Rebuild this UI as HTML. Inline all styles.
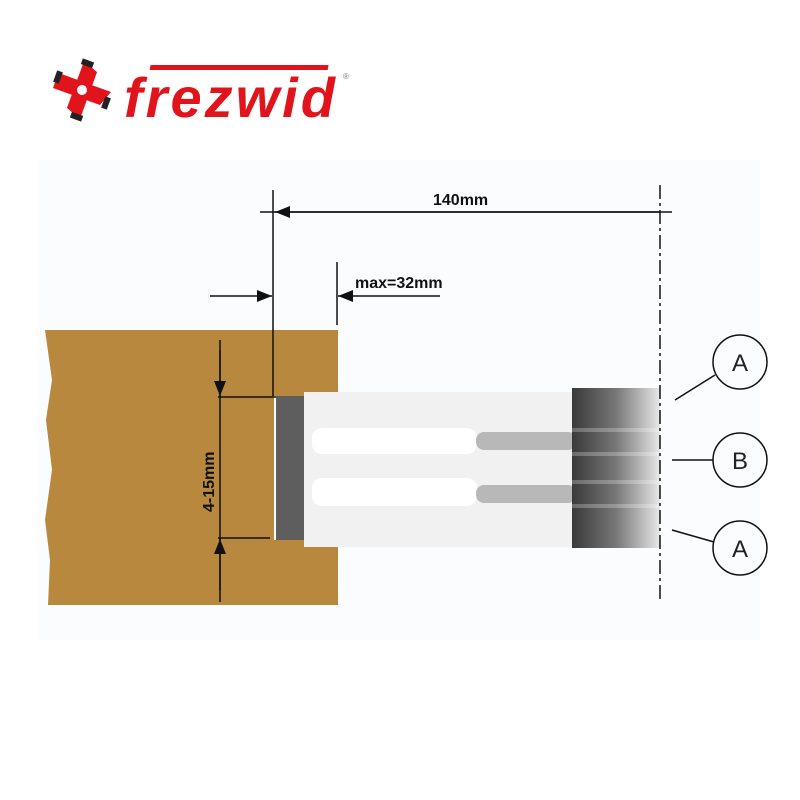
<!DOCTYPE html>
<html><head><style>body{margin:0;background:#fff}svg{display:block}</style></head><body>
<svg width="800" height="800" viewBox="0 0 800 800" xmlns="http://www.w3.org/2000/svg" font-family="Liberation Sans, sans-serif">
<defs>
<linearGradient id="g" x1="0" x2="1"><stop offset="0" stop-color="#3a3a3a"/><stop offset="0.5" stop-color="#777"/><stop offset="1" stop-color="#e8e8e8"/></linearGradient>
<marker id="ar" markerWidth="10" markerHeight="8" refX="10" refY="4" orient="auto"><path d="M0,0 L10,4 L0,8z" fill="#111"/></marker>
</defs>
<rect width="800" height="800" fill="#fff"/>
<rect x="38" y="160" width="722" height="480" fill="#fbfcfe"/>
<g transform="translate(82,90) rotate(20)">
<path d="M-28,-8 L-8,-8 L-8,-28 L8,-22 L8,-8 L28,-8 L22,8 L8,8 L8,28 L-8,22 L-8,8 L-28,8z" fill="#e1141b"/>
<rect x="-30" y="-10" width="6" height="12" fill="#222"/><rect x="24" y="-2" width="6" height="12" fill="#222"/>
<rect x="-10" y="-30" width="12" height="6" fill="#222"/><rect x="-2" y="24" width="12" height="6" fill="#222"/>
<circle r="5" fill="#fff"/>
</g>
<text x="124" y="117" font-size="56" font-weight="bold" font-style="italic" fill="#e1141b" letter-spacing="3">frezwid</text>
<rect x="162" y="65" width="178" height="5" fill="#e1141b" transform="skewX(-10)"/>
<text x="343" y="79" font-size="8" fill="#777">®</text>
<path d="M45,330 L338,330 L338,396 L274,396 L274,540 L338,540 L338,605 L48,605 L50,560 L45,520 L52,470 L46,420 L52,380 Z" fill="#b8883e"/>
<rect x="276" y="396" width="28" height="144" fill="#5e5e5e"/>
<rect x="304" y="392" width="272" height="155" fill="#f1f1f1"/>
<rect x="312" y="428" width="165" height="26" rx="10" fill="#fff"/>
<rect x="312" y="478" width="165" height="28" rx="10" fill="#fff"/>
<rect x="476" y="432" width="100" height="18" rx="8" fill="#b8b8b8"/>
<rect x="476" y="485" width="100" height="18" rx="8" fill="#b8b8b8"/>
<rect x="572" y="388" width="88" height="160" fill="url(#g)"/>
<g fill="#fff" opacity="0.25"><rect x="572" y="428" width="88" height="4"/><rect x="572" y="452" width="88" height="4"/><rect x="572" y="480" width="88" height="4"/><rect x="572" y="504" width="88" height="4"/></g>
<g stroke="#111" stroke-width="1.5" fill="none">
<line x1="273" y1="190" x2="273" y2="396"/>
<line x1="260" y1="212" x2="672" y2="212"/>
<line x1="660" y1="212" x2="275" y2="212" marker-end="url(#ar)"/>
<line x1="660" y1="185" x2="660" y2="600" stroke-dasharray="14,4,3,4"/>
<line x1="337" y1="262" x2="337" y2="325"/>
<line x1="210" y1="296" x2="272" y2="296" marker-end="url(#ar)"/>
<line x1="440" y1="296" x2="338" y2="296" marker-end="url(#ar)"/>
<line x1="220" y1="340" x2="220" y2="602"/>
<line x1="218" y1="397" x2="276" y2="397"/>
<line x1="218" y1="538" x2="270" y2="538"/>
<line x1="220" y1="350" x2="220" y2="396" marker-end="url(#ar)"/>
<line x1="220" y1="590" x2="220" y2="539" marker-end="url(#ar)"/>
<circle cx="740" cy="362" r="27"/><circle cx="740" cy="460" r="27"/><circle cx="740" cy="548" r="27"/>
<line x1="675" y1="400" x2="715" y2="375"/><line x1="672" y1="460" x2="713" y2="460"/><line x1="672" y1="530" x2="714" y2="542"/>
</g>
<text x="433" y="205" font-size="16" font-weight="bold" fill="#111">140mm</text>
<text x="355" y="288" font-size="16" font-weight="bold" fill="#111">max=32mm</text>
<text transform="translate(214,512) rotate(-90)" font-size="16" font-weight="bold" fill="#111">4-15mm</text>
<g font-size="24" fill="#222" text-anchor="middle"><text x="740" y="371">A</text><text x="740" y="469">B</text><text x="740" y="557">A</text></g>
</svg>
</body></html>
